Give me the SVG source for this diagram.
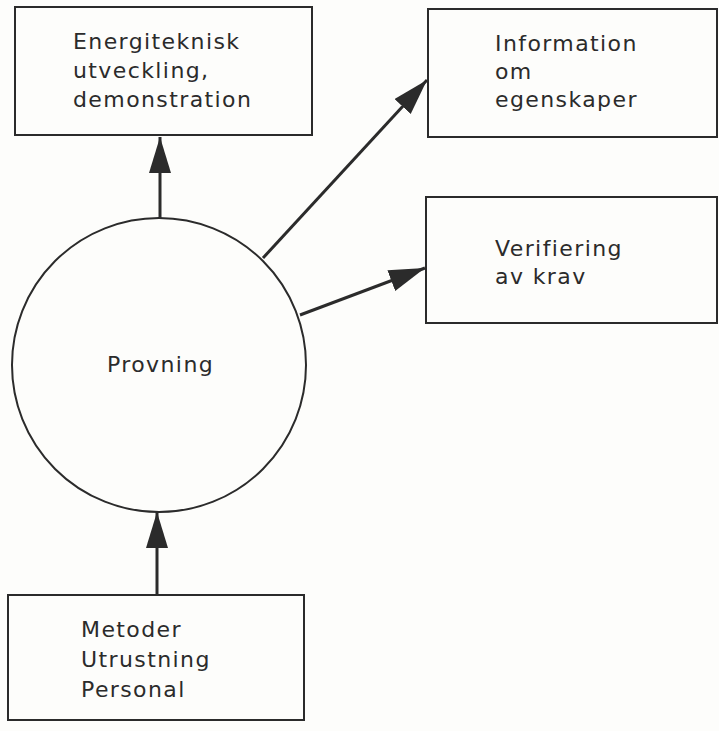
<svg xmlns="http://www.w3.org/2000/svg" width="719" height="731" viewBox="0 0 719 731">
<style>
.box{fill:none;stroke:#2b2b2b;stroke-width:2}
.lbl{font-family:"DejaVu Sans","Liberation Sans",sans-serif;font-size:22px;fill:#2b2b2b;letter-spacing:1.4px}
.con{stroke:#2b2b2b;stroke-width:3;fill:none}
</style>
<defs>
<marker id="ah" markerUnits="userSpaceOnUse" markerWidth="40" markerHeight="24" refX="36" refY="11" orient="auto">
<path d="M0,0 L36,11 L0,22 Z" fill="#2b2b2b"/>
</marker>
</defs>
<rect width="719" height="731" fill="#fdfdfb"/>
<g id="node-energi">
<rect class="box" x="15" y="7" width="297" height="128"/>
<text class="lbl" x="73" y="49">Energiteknisk</text>
<text class="lbl" x="73" y="78">utveckling,</text>
<text class="lbl" x="73" y="107">demonstration</text>
</g>
<g id="node-information">
<rect class="box" x="428" y="9" width="289" height="128"/>
<text class="lbl" x="495" y="51">Information</text>
<text class="lbl" x="495" y="79">om</text>
<text class="lbl" x="495" y="107">egenskaper</text>
</g>
<g id="node-verifiering">
<rect class="box" x="426" y="197" width="291" height="126"/>
<text class="lbl" x="495" y="256">Verifiering</text>
<text class="lbl" x="495" y="284">av krav</text>
</g>
<g id="node-provning">
<circle class="box" cx="159" cy="365" r="147"/>
<text class="lbl" x="107" y="372">Provning</text>
</g>
<g id="node-metoder">
<rect class="box" x="8" y="595" width="296" height="125"/>
<text class="lbl" x="81" y="637">Metoder</text>
<text class="lbl" x="81" y="667">Utrustning</text>
<text class="lbl" x="81" y="697">Personal</text>
</g>
<g id="connectors">
<line class="con" x1="160" y1="219" x2="160" y2="137" marker-end="url(#ah)"/>
<line class="con" x1="263" y1="258" x2="427" y2="80" marker-end="url(#ah)"/>
<line class="con" x1="300" y1="315" x2="425" y2="268" marker-end="url(#ah)"/>
<line class="con" x1="157" y1="595" x2="157" y2="512" marker-end="url(#ah)"/>
</g>
</svg>
